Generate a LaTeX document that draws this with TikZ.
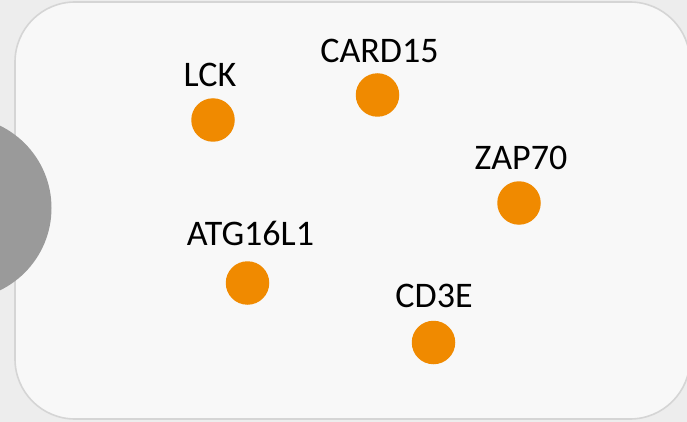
\documentclass[tikz,border=0pt]{standalone}
\usepackage{fontspec}
\setmainfont{Carlito}
\definecolor{bgout}{HTML}{EDEDED}
\definecolor{bgin}{HTML}{F8F8F8}
\definecolor{edge}{HTML}{D5D5D5}
\definecolor{dotorange}{HTML}{F08A00}
\definecolor{blob}{HTML}{9A9A9A}
\tikzset{
  gene/.style={circle, fill=dotorange, draw=none, minimum size=43.5pt, inner sep=0pt},
  glabel/.style={anchor=base, inner sep=0pt, font=\fontsize{36}{43}\selectfont, text=black},
}
\begin{document}
\begin{tikzpicture}[x=1pt,y=-1pt]
\useasboundingbox (0,0) rectangle (687,422);
\fill[bgout] (0,0) rectangle (687,422);
\draw[edge, line width=1.6pt, fill=bgin, rounded corners=60pt] (15,2) rectangle (690,419);
\fill[blob] (-40,208) circle (91.5);
\node[gene] (lck) at (213,120) {};
\node[gene] (card) at (377.5,95) {};
\node[gene] (zap) at (519,203) {};
\node[gene] (atg) at (247.5,283) {};
\node[gene] (cd3e) at (433.5,342.5) {};
\node[glabel] (lckl) at (210,86.5) {LCK};
\node[glabel] (cardl) at (379.5,62.8) {CARD15};
\node[glabel] (zapl) at (521,170) {ZAP70};
\node[glabel] (atgl) at (250.5,245) {ATG16L1};
\node[glabel] (cd3el) at (434,307.3) {CD3E};
\end{tikzpicture}
\end{document}
